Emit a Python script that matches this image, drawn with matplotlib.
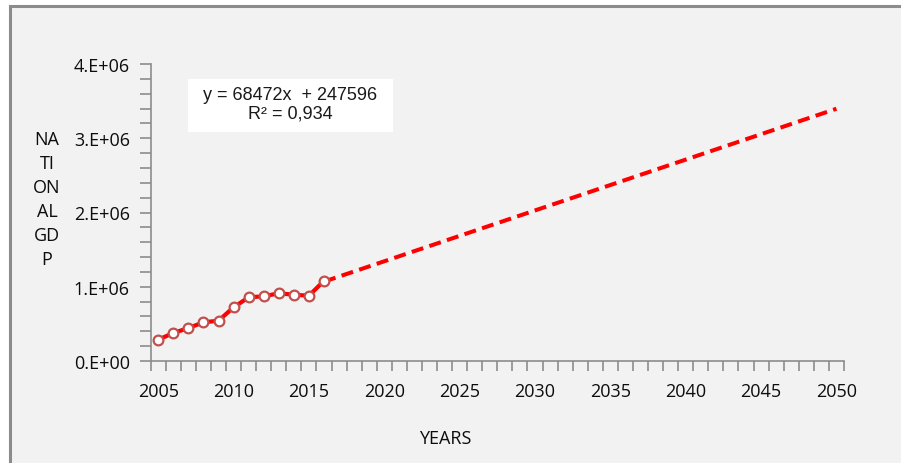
import numpy as np
import matplotlib
matplotlib.use("Agg")
import matplotlib.pyplot as plt
from matplotlib.patches import Rectangle

## Data
years = [2005, 2006, 2007, 2008, 2009, 2010, 2011, 2012, 2013, 2014, 2015, 2016]
gdp = [287000, 377000, 444000, 521000, 543000, 723000, 858000, 871000, 912000, 893000, 879000, 1081000]

# trendline shown on the chart (x = 1 for 2005)
slope = 68472
intercept = 247596
trend_years = [2016, 2050]

ytick_vals = [0, 1e6, 2e6, 3e6, 4e6]
ytick_labels = ["0.E+00", "1.E+06", "2.E+06", "3.E+06", "4.E+06"]
xtick_vals = [2005, 2010, 2015, 2020, 2025, 2030, 2035, 2040, 2045, 2050]

W, H = 901, 464
fig = plt.figure(figsize=(W / 100, H / 100), dpi=100, facecolor="white")

# chart area background with the grey frame (top and left visible)
fig.patches.append(Rectangle((10 / W, -0.1), 1.2, 1 - 7 / H + 0.1, transform=fig.transFigure,
                             facecolor="#f2f2f2", edgecolor="#8c8c8c", lw=2.2, zorder=-10))
# equation box
fig.patches.append(Rectangle((188 / W, 1 - 133 / H), 205 / W, 53 / H, transform=fig.transFigure,
                             facecolor="white", edgecolor="none", zorder=-5))

ax = fig.add_axes([150.7 / W, 1 - 362 / H, (844 - 150.7) / W, (362 - 65) / H])
ax.set_facecolor("none")

ax.plot(years, gdp, color="#ff0000", lw=3.0, marker="o", markersize=7,
        markerfacecolor="white", markeredgecolor="#c0504d", markeredgewidth=1.6, zorder=3)

ty = [slope * (y - 2004) + intercept for y in trend_years]
ax.plot(trend_years, ty, color="#ff0000", lw=2.9, linestyle=(0, (3, 1.6)),
        dash_capstyle="butt", zorder=2)

ax.set_xlim(2004.5, 2050.5)
ax.set_ylim(0, 4e6)

for s in ["top", "right"]:
    ax.spines[s].set_visible(False)
for s in ["left", "bottom"]:
    ax.spines[s].set_color("#8c8c8c")
    ax.spines[s].set_linewidth(1.2)

ax.set_xticks(xtick_vals)
ax.set_xticklabels([str(x) for x in xtick_vals], fontsize=13, family="Open Sans", color="#0d0d0d")
ax.set_xticks(np.arange(2004.5, 2051, 1), minor=True)
ax.tick_params(axis="x", which="major", length=0, pad=15)
ax.tick_params(axis="x", which="minor", length=7, color="#8c8c8c", width=1.2)

ax.set_yticks(ytick_vals)
ax.set_yticklabels(ytick_labels, fontsize=13, family="Open Sans", color="#0d0d0d")
ax.set_yticks(np.arange(0, 4.01e6, 0.2e6), minor=True)
ax.tick_params(axis="y", which="both", length=8, color="#8c8c8c", width=1.2, pad=7)

fig.text(290 / W, 1 - 96 / H, "y = 68472x  + 247596", ha="center", va="center",
         fontsize=13, family="Liberation Sans", color="#1a1a1a")
fig.text(290 / W, 1 - 114 / H, "R² = 0,934", ha="center", va="center",
         fontsize=13, family="Liberation Sans", color="#1a1a1a")

fig.text(47 / W, 1 - 200 / H, "NA\nTI\nON\nAL\nGD\nP", ha="center", va="center",
         fontsize=13, family="Open Sans", linespacing=1.42, color="#0d0d0d")
fig.text(445 / W, 1 - 439 / H, "YEARS", ha="center", va="center",
         fontsize=13, family="Open Sans", color="#0d0d0d")

fig.savefig("out.png", dpi=100)
